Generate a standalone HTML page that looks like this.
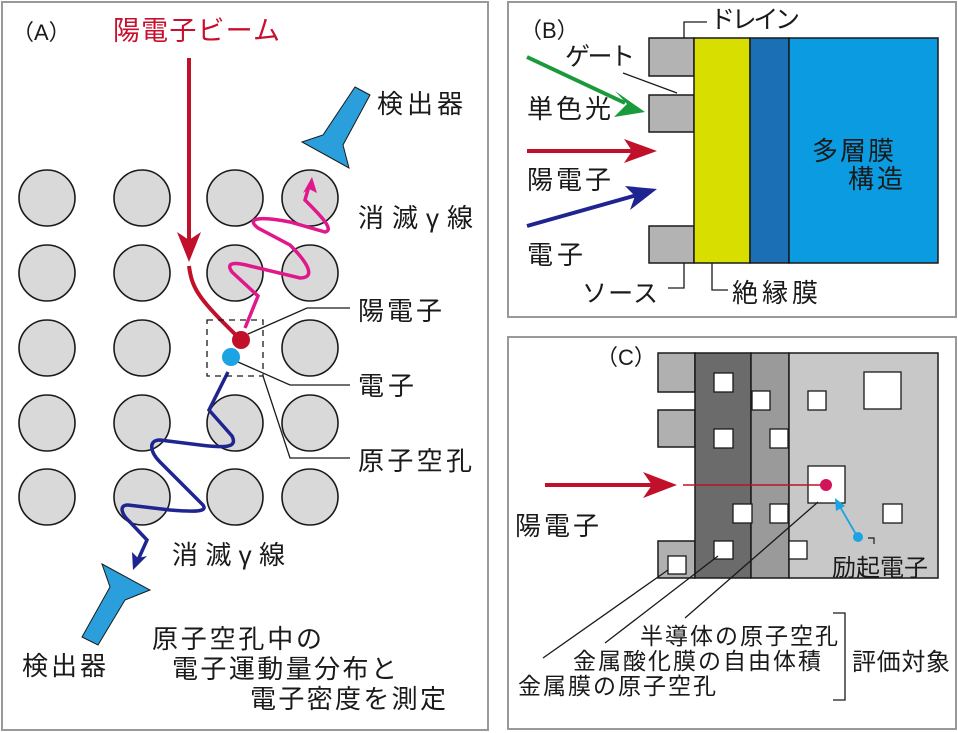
<!DOCTYPE html>
<html><head><meta charset="utf-8"><style>
html,body{margin:0;padding:0;background:#fff}
svg{display:block}
text{font-family:"Liberation Sans","Noto Sans CJK JP",sans-serif;fill:#1a1a1a}
</style></head><body>
<svg width="958" height="733" viewBox="0 0 958 733" xmlns="http://www.w3.org/2000/svg">
<rect x="2" y="2" width="486" height="728" fill="#fff" stroke="#999" stroke-width="2"/>
<g fill="#d9d9d9" stroke="#1a1a1a" stroke-width="1.6">
<circle cx="47" cy="198" r="28"/><circle cx="142" cy="198" r="28"/><circle cx="235" cy="198" r="28"/><circle cx="310" cy="198" r="28"/>
<circle cx="47" cy="273" r="28"/><circle cx="142" cy="273" r="28"/><circle cx="235" cy="273" r="28"/><circle cx="310" cy="273" r="28"/>
<circle cx="47" cy="348" r="28"/><circle cx="142" cy="348" r="28"/><circle cx="310" cy="348" r="28"/>
<circle cx="47" cy="423" r="28"/><circle cx="142" cy="423" r="28"/><circle cx="235" cy="423" r="28"/><circle cx="310" cy="423" r="28"/>
<circle cx="47" cy="497" r="28"/><circle cx="142" cy="497" r="28"/><circle cx="235" cy="497" r="28"/><circle cx="310" cy="497" r="28"/>
</g>
<line x1="189" y1="58" x2="189" y2="240" stroke="#c0102a" stroke-width="4"/>
<polygon points="177,232 189,240 201,232 189,262" fill="#c0102a"/>
<path d="M189,266 C192,290 200,300 241,340" fill="none" stroke="#c0102a" stroke-width="4"/>
<path d="M245,328 L258,296 L232,272 C225,262 235,262 250,266 L300,278 C315,278 310,265 290,245 L258,228 C245,218 260,216 290,222 L325,232 C335,230 320,215 305,200 L309,186" fill="none" stroke="#e0188c" stroke-width="3.5"/>
<polygon points="312,177 303,193 309,189 317,193" fill="#e0188c"/>
<path d="M228,372 L209,410 L232,436 C238,448 225,448 200,445 L160,440 C148,440 150,452 160,462 L203,505 C208,512 195,512 170,510 L128,505 C118,505 122,515 130,522 L147,540 L138,560" fill="none" stroke="#1f2590" stroke-width="3.5"/>
<polygon points="133,570 132,552 138,558 147,556" fill="#1f2590"/>
<rect x="207" y="320" width="56" height="56" fill="none" stroke="#1a1a1a" stroke-width="1.3" stroke-dasharray="6,5"/>
<polyline points="248,334 307,308 350,308" fill="none" stroke="#1a1a1a" stroke-width="1.3"/>
<polyline points="238,362 290,385 350,385" fill="none" stroke="#1a1a1a" stroke-width="1.3"/>
<polyline points="263,376 290,458 350,458" fill="none" stroke="#1a1a1a" stroke-width="1.3"/>
<circle cx="241" cy="340" r="9" fill="#c0102a"/>
<circle cx="231" cy="357" r="9" fill="#1ba3e3"/>
<polygon points="355,87 370,95 343,145 349,168 302,142 323,135" fill="#2a9fdc" stroke="#1a1a1a" stroke-width="1"/>
<polygon points="102,564 150,590 125,600 98,645 82,637 110,587" fill="#2a9fdc" stroke="#1a1a1a" stroke-width="1"/>
<text x="12" y="40" font-size="22">（A）</text>
<text x="113" y="40" font-size="27" style="fill:#c8102e" textLength="167">陽電子ビーム</text>
<text x="377" y="113" font-size="26" textLength="86">検出器</text>
<text x="358" y="227" font-size="26" textLength="115">消滅γ線</text>
<text x="358" y="320" font-size="26" textLength="84">陽電子</text>
<text x="358" y="395" font-size="26" textLength="56">電子</text>
<text x="358" y="470" font-size="26" textLength="114">原子空孔</text>
<text x="172" y="564" font-size="26" textLength="113">消滅γ線</text>
<text x="22" y="675" font-size="26" textLength="84">検出器</text>
<text x="152" y="648" font-size="26" textLength="170">原子空孔中の</text>
<text x="172" y="678" font-size="26" textLength="225">電子運動量分布と</text>
<text x="250" y="708" font-size="26" textLength="196">電子密度を測定</text>

<rect x="508" y="2" width="448" height="315" fill="#fff" stroke="#999" stroke-width="2"/>
<g stroke="#1a1a1a" stroke-width="1.5">
<rect x="649" y="38" width="45" height="38" fill="#b3b3b3"/>
<rect x="649" y="95" width="45" height="37" fill="#b3b3b3"/>
<rect x="649" y="226" width="45" height="37" fill="#b3b3b3"/>
<rect x="694" y="38" width="56" height="225" fill="#d8df00"/>
<rect x="750" y="38" width="39" height="225" fill="#1a6fb5"/>
<rect x="789" y="38" width="149" height="225" fill="#0a9be0"/>
</g>
<text x="520" y="38" font-size="22">（B）</text>
<text x="710" y="28" font-size="25" textLength="90">ドレイン</text>
<polyline points="684,38 684,22 707,22" fill="none" stroke="#1a1a1a" stroke-width="1.3"/>
<text x="565" y="65" font-size="25" textLength="70">ゲート</text>
<line x1="623" y1="73" x2="677" y2="93" stroke="#1a1a1a" stroke-width="1.3"/>
<text x="527" y="118" font-size="26" textLength="84">単色光</text>
<line x1="527" y1="57" x2="625" y2="103" stroke="#1a9a3a" stroke-width="4"/>
<polygon points="645,112 615,91 627,104 614,117" fill="#1a9a3a"/>
<line x1="527" y1="151" x2="635" y2="151" stroke="#c0102a" stroke-width="4"/>
<polygon points="657,151 624,139 632,151 624,163" fill="#c0102a"/>
<text x="527" y="189" font-size="26" textLength="84">陽電子</text>
<line x1="527" y1="226" x2="637" y2="195" stroke="#1f2590" stroke-width="4"/>
<polygon points="657,189 625,186 635,196 630,210" fill="#1f2590"/>
<text x="527" y="264" font-size="26" textLength="56">電子</text>
<text x="582" y="302" font-size="25" textLength="76">ソース</text>
<polyline points="668,288 684,288 684,263" fill="none" stroke="#1a1a1a" stroke-width="1.3"/>
<polyline points="712,263 712,290 728,290" fill="none" stroke="#1a1a1a" stroke-width="1.3"/>
<text x="732" y="302" font-size="26" textLength="86">絶縁膜</text>
<text x="812" y="160" font-size="26" textLength="82">多層膜</text>
<text x="848" y="188" font-size="26" textLength="55">構造</text>

<rect x="508" y="337" width="448" height="392" fill="#fff" stroke="#999" stroke-width="2"/>
<g stroke="#1a1a1a" stroke-width="1.5">
<rect x="658" y="353" width="37" height="39" fill="#b0b0b0"/>
<rect x="658" y="410" width="37" height="37" fill="#b0b0b0"/>
<rect x="658" y="541" width="37" height="37" fill="#b0b0b0"/>
<rect x="695" y="353" width="56" height="225" fill="#6b6b6b"/>
<rect x="751" y="353" width="38" height="225" fill="#9a9a9a"/>
<rect x="789" y="353" width="149" height="225" fill="#c8c8c8"/>
</g>
<g fill="#fff" stroke="#1a1a1a" stroke-width="1.3">
<rect x="714" y="373" width="19" height="19"/><rect x="752" y="391" width="18" height="19"/>
<rect x="808" y="391" width="18" height="19"/><rect x="864" y="372" width="37" height="37"/>
<rect x="714" y="429" width="19" height="19"/><rect x="770" y="429" width="18" height="19"/>
<rect x="733" y="504" width="19" height="19"/><rect x="770" y="504" width="18" height="19"/>
<rect x="883" y="504" width="19" height="19"/><rect x="714" y="541" width="19" height="18"/>
<rect x="789" y="541" width="18" height="18"/><rect x="668" y="556" width="18" height="18"/>
<rect x="808" y="466" width="37" height="37"/>
</g>
<line x1="683" y1="485" x2="826" y2="485" stroke="#c0102a" stroke-width="1.5"/>
<circle cx="826" cy="485" r="6" fill="#d4145a"/>
<line x1="545" y1="485" x2="660" y2="485" stroke="#c0102a" stroke-width="4"/>
<polygon points="677,485 643,472 652,485 643,498" fill="#c0102a"/>
<text x="515" y="535" font-size="26" textLength="84">陽電子</text>
<line x1="857" y1="536" x2="839" y2="505" stroke="#1ba3e3" stroke-width="1.8"/>
<polygon points="835,498 836,511 845,506" fill="#1ba3e3"/>
<circle cx="858" cy="537" r="5" fill="#1ba3e3"/>
<polyline points="868,538 874,538 874,544" fill="none" stroke="#1a1a1a" stroke-width="1.2"/>
<text x="832" y="576" font-size="24" textLength="96">励起電子</text>
<line x1="818" y1="502" x2="685" y2="618" stroke="#1a1a1a" stroke-width="1.3"/>
<line x1="718" y1="556" x2="605" y2="643" stroke="#1a1a1a" stroke-width="1.3"/>
<line x1="668" y1="570" x2="543" y2="658" stroke="#1a1a1a" stroke-width="1.3"/>
<text x="640" y="644" font-size="23" textLength="198">半導体の原子空孔</text>
<text x="573" y="669" font-size="23" textLength="248">金属酸化膜の自由体積</text>
<text x="518" y="694" font-size="23" textLength="198">金属膜の原子空孔</text>
<polyline points="833,613 845,613 845,700 833,700" fill="none" stroke="#1a1a1a" stroke-width="1.3"/>
<text x="852" y="670" font-size="24" textLength="98">評価対象</text>
<text x="596" y="365" font-size="22">（C）</text>
</svg>
</body></html>
